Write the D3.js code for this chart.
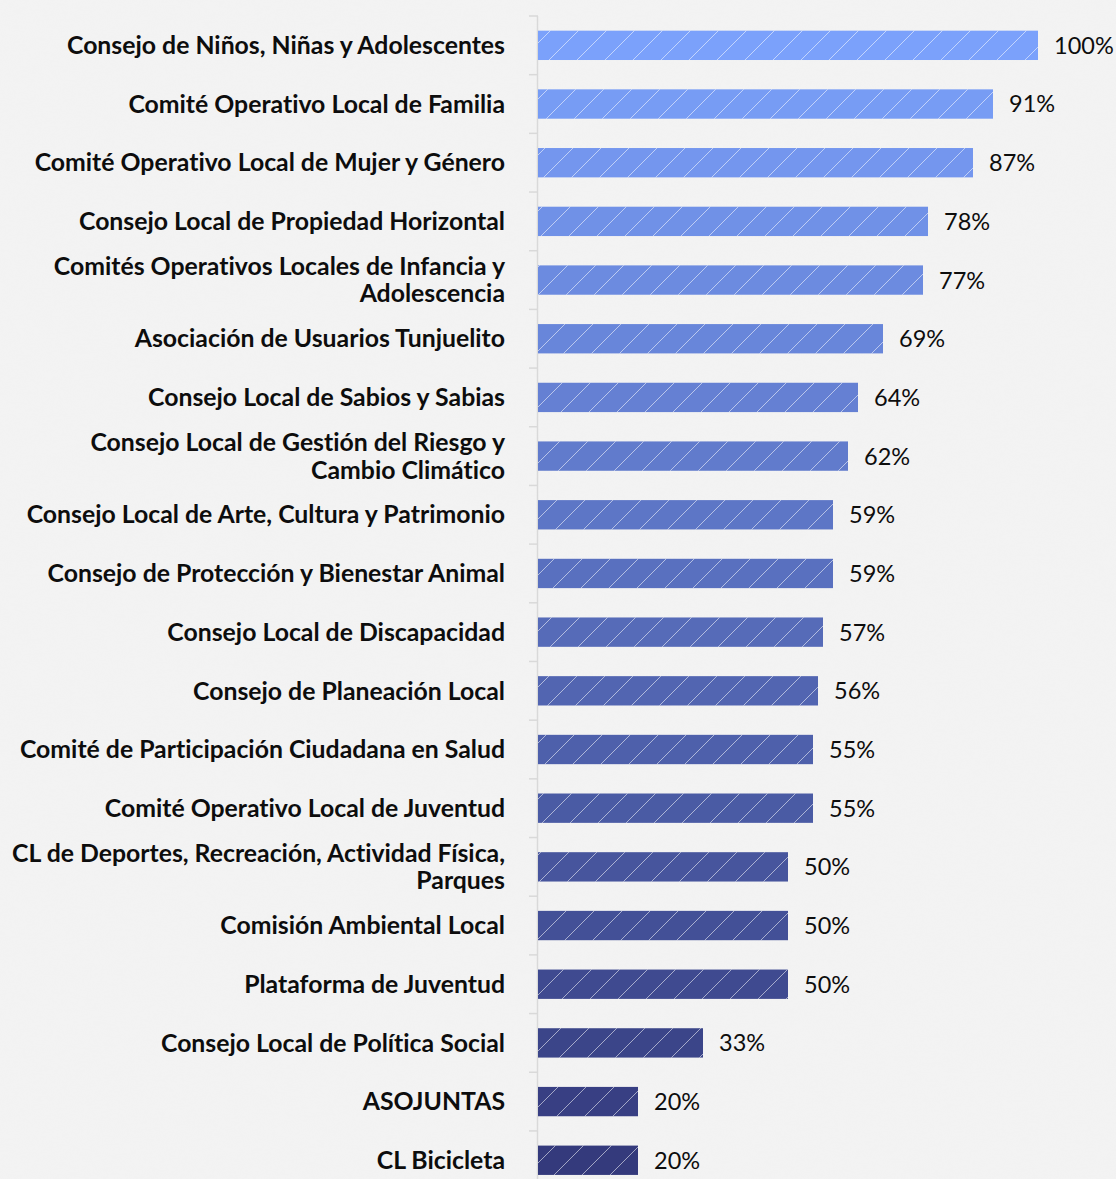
<!DOCTYPE html>
<html>
<head>
<meta charset="utf-8">
<script src="https://cdn.jsdelivr.net/npm/d3@7"></script>
<style>
  html, body { margin: 0; padding: 0; background: #f2f2f2; }
  svg { display: block; }
  text { font-variant-ligatures: none; font-feature-settings: "liga" 0, "dlig" 0; }
</style>
</head>
<body>
<svg id="chart" width="1116" height="1179"></svg>
<script>
// Participation by local council (share, 0–1)
const categories = [
  "Consejo de Niños, Niñas y Adolescentes",
  "Comité Operativo Local de Familia",
  "Comité Operativo Local de Mujer y Género",
  "Consejo Local de Propiedad Horizontal",
  "Comités Operativos Locales de Infancia y|Adolescencia",
  "Asociación de Usuarios Tunjuelito",
  "Consejo Local de Sabios y Sabias",
  "Consejo Local de Gestión del Riesgo y|Cambio Climático",
  "Consejo Local de Arte, Cultura y Patrimonio",
  "Consejo de Protección y Bienestar Animal",
  "Consejo Local de Discapacidad",
  "Consejo de Planeación Local",
  "Comité de Participación Ciudadana en Salud",
  "Comité Operativo Local de Juventud",
  "CL de Deportes, Recreación, Actividad Física,|Parques",
  "Comisión Ambiental Local",
  "Plataforma de Juventud",
  "Consejo Local de Política Social",
  "ASOJUNTAS",
  "CL Bicicleta"
];
const values = [1.00, 0.91, 0.87, 0.78, 0.77, 0.69, 0.64, 0.62, 0.59, 0.59,
                0.57, 0.56, 0.55, 0.55, 0.50, 0.50, 0.50, 0.33, 0.20, 0.20];
const valueLabels = ["100%", "91%", "87%", "78%", "77%", "69%", "64%", "62%", "59%", "59%",
                     "57%", "56%", "55%", "55%", "50%", "50%", "50%", "33%", "20%", "20%"];

const svg = d3.select("#chart");
const W = 1116, H = 1179;

// Paper-like background texture
const defs = svg.append("defs");
const noise = defs.append("filter").attr("id", "paper")
  .attr("x", 0).attr("y", 0).attr("width", "100%").attr("height", "100%");
noise.append("feTurbulence").attr("type", "fractalNoise")
  .attr("baseFrequency", "0.02 0.09").attr("numOctaves", 3).attr("seed", 4).attr("result", "n");
noise.append("feColorMatrix").attr("in", "n").attr("type", "matrix")
  .attr("values", "0 0 0 0 0.86  0 0 0 0 0.86  0 0 0 0 0.86  0 0 0 0.35 0");
svg.append("rect").attr("width", W).attr("height", H).attr("fill", "#f3f3f3");
svg.append("rect").attr("width", W).attr("height", H).attr("filter", "url(#paper)").attr("opacity", 0.5);

// Diagonal hatch overlay
const hatch = defs.append("pattern").attr("id", "hatch")
  .attr("patternUnits", "userSpaceOnUse").attr("width", 28).attr("height", 28)
  .attr("x", 21).attr("y", 0);
hatch.append("path").attr("d", "M-7,7 L7,-7 M0,28 L28,0 M21,35 L35,21")
  .attr("stroke", "rgba(255,255,255,0.55)").attr("stroke-width", 1);

const x0 = 538;
const x = d3.scaleLinear().domain([0, 1]).range([x0, x0 + 500]);
const step = 58.68;
const y = d3.scaleBand().domain(categories)
  .range([16, 16 + step * categories.length])
  .paddingInner(0.5).paddingOuter(0.25);

const color = d3.scaleLinear().domain([0, categories.length - 1])
  .range(["#7ba1fb", "#343a7c"]).interpolate(d3.interpolateRgb);

// Axis line with ticks at band boundaries
const g = svg.append("g");
g.append("line").attr("x1", x0 - 0.5).attr("x2", x0 - 0.5)
  .attr("y1", 16).attr("y2", H)
  .attr("stroke", "#d9d9d9").attr("stroke-width", 1.5);
d3.range(categories.length).forEach(i => {
  const yy = 16 + i * step;
  g.append("line").attr("x1", x0 - 9).attr("x2", x0).attr("y1", yy).attr("y2", yy)
    .attr("stroke", "#d9d9d9").attr("stroke-width", 1.5);
});

const rows = categories.map((c, i) => ({ c, v: values[i], lbl: valueLabels[i], i }));

g.selectAll("rect.bar").data(rows).join("rect").attr("class", "bar")
  .attr("x", x(0)).attr("y", d => y(d.c))
  .attr("width", d => x(d.v) - x(0)).attr("height", y.bandwidth())
  .attr("fill", d => color(d.i));
g.selectAll("rect.hatch").data(rows).join("rect").attr("class", "hatch")
  .attr("x", x(0)).attr("y", d => y(d.c))
  .attr("width", d => x(d.v) - x(0)).attr("height", y.bandwidth())
  .attr("fill", "url(#hatch)");

// Category labels
const lab = g.selectAll("text.cat").data(rows).join("text").attr("class", "cat")
  .attr("text-anchor", "end")
  .attr("font-family", "Lato, sans-serif").attr("font-weight", 700)
  .attr("font-size", 24.8).attr("fill", "#0d0d0d");
lab.each(function(d) {
  const lines = d.c.split("|");
  const cy = y(d.c) + y.bandwidth() / 2;
  const lh = 27.5;
  lines.forEach((t, k) => {
    d3.select(this).append("tspan").attr("x", 505)
      .attr("y", cy + (k - (lines.length - 1) / 2) * lh)
      .attr("dy", "0.35em").text(t);
  });
});

// Value labels
g.selectAll("text.val").data(rows).join("text").attr("class", "val")
  .attr("x", d => x(d.v) + 16).attr("y", d => y(d.c) + y.bandwidth() / 2)
  .attr("dy", "0.36em")
  .attr("font-family", "Lato, sans-serif").attr("font-size", 23.5)
  .attr("fill", "#0d0d0d").text(d => d.lbl);
</script>
</body>
</html>
